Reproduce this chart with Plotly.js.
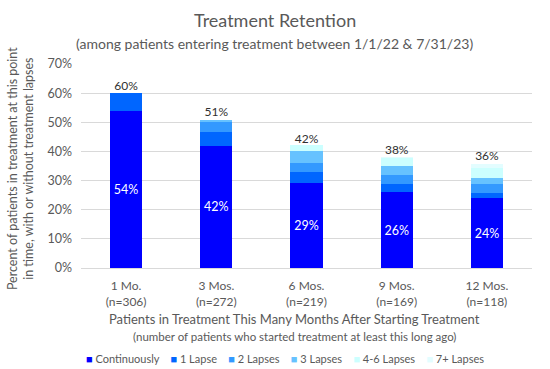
<!DOCTYPE html>
<html>
<head>
<meta charset="utf-8">
<script src="https://cdn.plot.ly/plotly-3.0.1.min.js"></script>
<style>html,body{margin:0;padding:0;background:#fff}#chart{width:550px;height:369px}</style>
</head>
<body>
<div id="chart"></div>
<script>
const months = ['1 Mo.', '3 Mos.', '6 Mos.', '9 Mos.', '12 Mos.'];
const nCounts = [306, 272, 219, 169, 118];
const continuously = [54, 42, 29, 26, 24];
const lapse1 = [6, 4.8, 3.9, 2.8, 1.9];
const lapse2 = [0, 3.2, 3.2, 3.2, 2.8];
const lapse3 = [0, 0.8, 4.1, 3.1, 2.1];
const lapse4to6 = [0, 0, 2.0, 2.5, 3.4];
const lapse7plus = [0, 0, 0, 0.4, 1.6];
const totals = [60, 51, 42, 38, 36];
const seriesNames = ['Continuously', '1 Lapse', '2 Lapses', '3 Lapses', '4-6 Lapses', '7+ Lapses'];
const seriesColors = ['#0000FF', '#0066FF', '#3399FF', '#66C2FF', '#CCFFFF', '#E3FDFF'];

const cats = months.map((m, i) => m + '<br>(n=' + nCounts[i] + ')');
const seriesData = [continuously, lapse1, lapse2, lapse3, lapse4to6, lapse7plus];
const font = 'Lato, "Open Sans", sans-serif';
const gray = '#595959';

const traces = seriesData.map((vals, k) => ({
  type: 'bar', x: cats, y: vals, name: seriesNames[k],
  marker: {color: seriesColors[k], line: {width: 0}},
  text: k === 0 ? vals.map(v => v + '%') : undefined,
  textposition: k === 0 ? 'inside' : 'none',
  insidetextanchor: 'middle',
  textfont: {color: '#ffffff', size: 12.5, family: font},
  showlegend: false,
  hoverinfo: 'x+y+name'
}));
traces.push({
  type: 'scatter', mode: 'text', x: cats, y: totals,
  text: totals.map(v => v + '%'), textposition: 'top center',
  textfont: {color: '#303030', size: 12, family: font},
  showlegend: false, hoverinfo: 'skip'
});

// Legend built as one line of real text from the series names and colours
const legendText = seriesNames.map((nm, k) =>
  '<span style="color:' + seriesColors[k] + '">■</span> ' + nm
).join('&nbsp;&nbsp;&nbsp;&nbsp;');

const layout = {
  width: 550, height: 369,
  margin: {l: 81, r: 18, t: 64, b: 101},
  paper_bgcolor: '#fff', plot_bgcolor: '#fff',
  barmode: 'stack', bargap: 0.645,
  font: {family: font, color: gray, size: 12},
  showlegend: false,
  xaxis: {
    type: 'category', showgrid: false, showline: false, ticks: '',
    tickfont: {size: 12, color: gray}, ticklabelstandoff: 9
  },
  yaxis: {
    range: [0, 70], dtick: 10, ticksuffix: '%', showgrid: true,
    gridcolor: '#D9D9D9', gridwidth: 1, zeroline: true, zerolinecolor: '#D9D9D9',
    zerolinewidth: 1, showline: false, ticks: '', tickfont: {size: 12.5, color: gray},
    ticklabelstandoff: 8
  },
  annotations: [
    {text: 'Treatment Retention', xref: 'paper', yref: 'paper', x: 0.43, y: 1, yshift: 44,
     showarrow: false, xanchor: 'center', yanchor: 'middle', font: {size: 18, color: gray}},
    {text: '(among patients entering treatment between 1/1/22 &amp; 7/31/23)', xref: 'paper', yref: 'paper',
     x: 0.43, y: 1, yshift: 21, showarrow: false, xanchor: 'center', yanchor: 'middle',
     font: {size: 14, color: gray}},
    {text: 'Patients in Treatment This Many Months After Starting Treatment', xref: 'paper', yref: 'paper',
     x: 0.474, y: 0, yshift: -51, showarrow: false, xanchor: 'center', yanchor: 'middle',
     font: {size: 13, color: gray}},
    {text: '(number of patients who started treatment at least this long ago)', xref: 'paper', yref: 'paper',
     x: 0.474, y: 0, yshift: -68, showarrow: false, xanchor: 'center', yanchor: 'middle',
     font: {size: 11.5, color: gray}},
    {text: 'Percent of patients in treatment at this point<br>in time, with or without treatment lapses',
     xref: 'paper', yref: 'paper', x: (20 - 81) / 451, y: 0.485, textangle: -90,
     showarrow: false, xanchor: 'center', yanchor: 'middle', font: {size: 12.5, color: gray}},
    {text: legendText, xref: 'paper', yref: 'paper', x: 0.452, y: 0, yshift: -90,
     showarrow: false, xanchor: 'center', yanchor: 'middle', font: {size: 11, color: gray}}
  ]
};

Plotly.newPlot('chart', traces, layout, {displayModeBar: false, staticPlot: true});
</script>
</body>
</html>
